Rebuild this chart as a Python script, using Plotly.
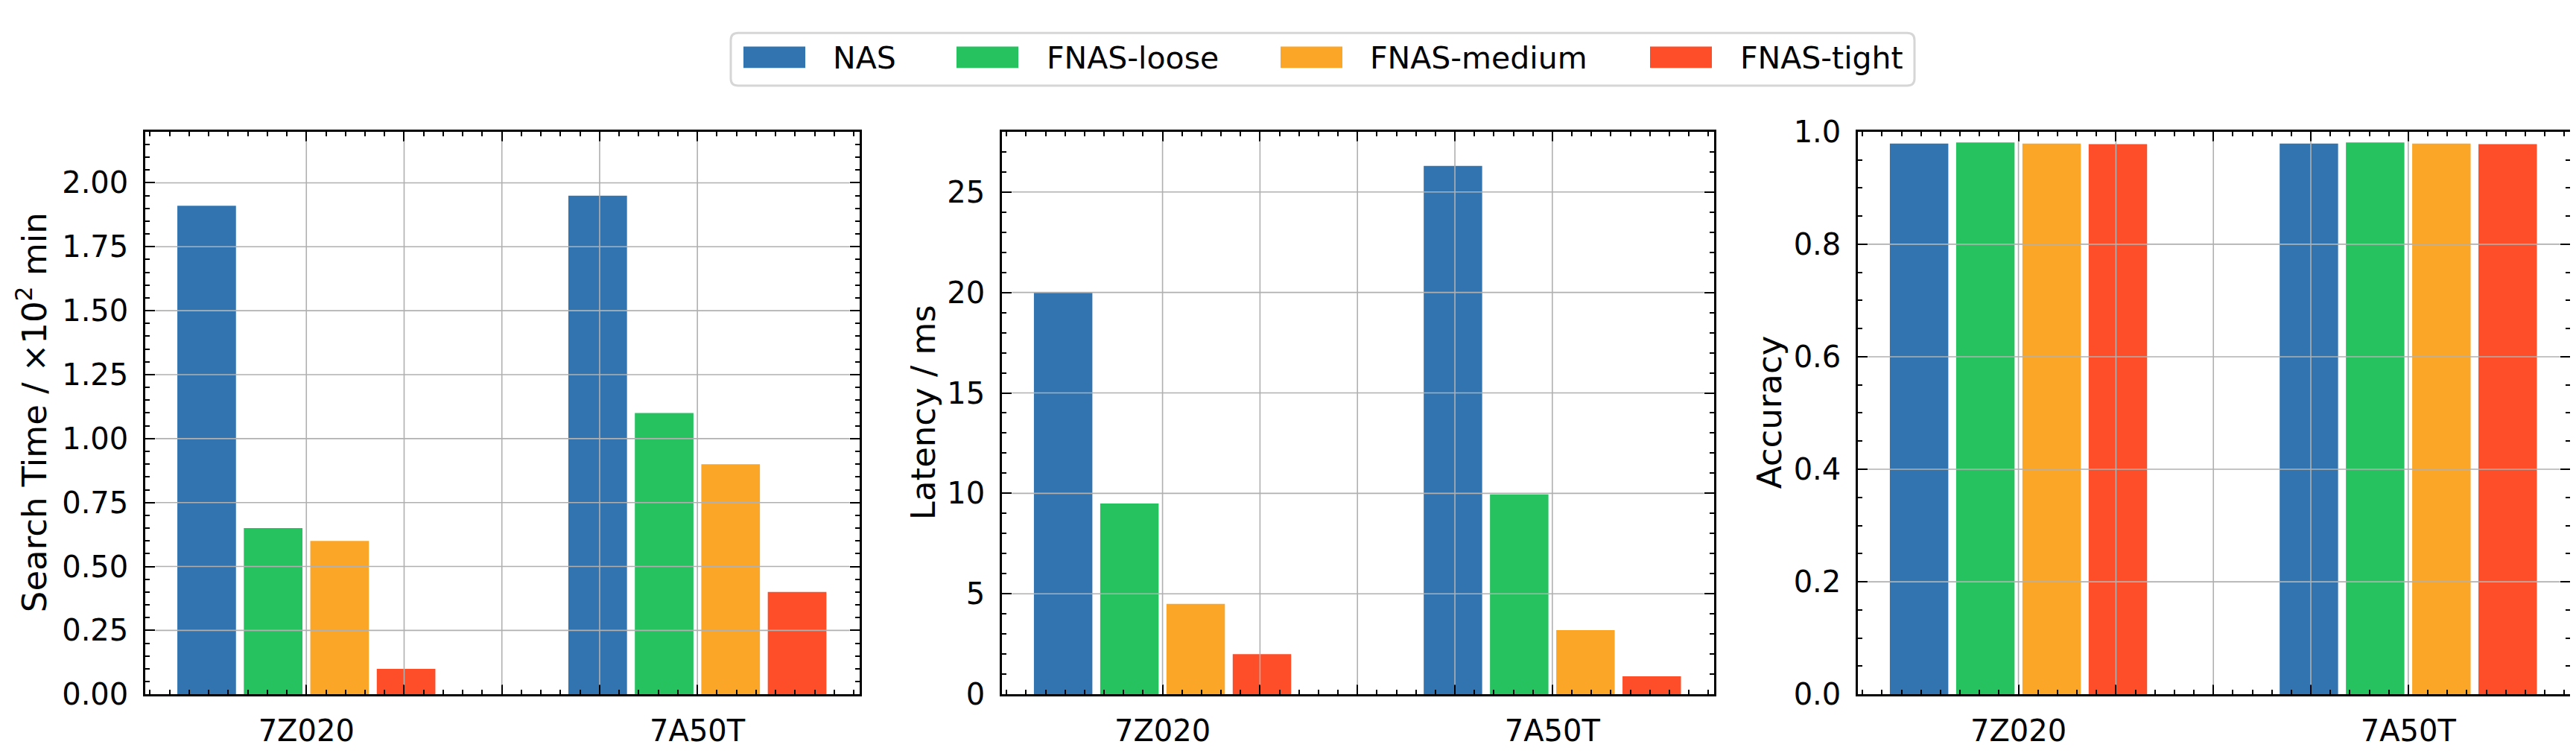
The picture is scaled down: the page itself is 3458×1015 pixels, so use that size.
import plotly.graph_objects as go

# data
devices = ["7Z020", "7A50T"]
methods = ["NAS", "FNAS-loose", "FNAS-medium", "FNAS-tight"]
colors = ["#3274b0", "#26c260", "#fca628", "#fe4e29"]

search_time = {  # x10^2 min
    "NAS": [1.91, 1.95],
    "FNAS-loose": [0.65, 1.10],
    "FNAS-medium": [0.60, 0.90],
    "FNAS-tight": [0.10, 0.40],
}
latency = {  # ms
    "NAS": [20.0, 26.3],
    "FNAS-loose": [9.5, 9.95],
    "FNAS-medium": [4.5, 3.2],
    "FNAS-tight": [2.0, 0.9],
}
accuracy = {
    "NAS": [0.979, 0.979],
    "FNAS-loose": [0.981, 0.981],
    "FNAS-medium": [0.979, 0.979],
    "FNAS-tight": [0.978, 0.978],
}

xtick_vals = [0, 0.25, 0.5, 0.75, 1]
xtick_text = [devices[0], "", "", "", devices[1]]

W, H = 3458, 1015
FONT = "DejaVu Sans"
GRID = "#b0b0b0"

x_domains = [[187 / W, 1146 / W], [1337 / W, 2293 / W], [2486 / W, 3442 / W]]
y_domain = [(H - 944) / H, (H - 152.7) / H]

panels = [
    dict(data=search_time, yrange=[0, 2.2], yticks=[0, 0.25, 0.5, 0.75, 1.0, 1.25, 1.5, 1.75, 2.0],
         fmt=".2f", minor=0.05, title="Search Time / ×10<sup>2</sup> min", title_x=35),
    dict(data=latency, yrange=[0, 28], yticks=[0, 5, 10, 15, 20, 25],
         fmt="d", minor=1, title="Latency / ms", title_x=1231),
    dict(data=accuracy, yrange=[0, 1.0], yticks=[0, 0.2, 0.4, 0.6, 0.8, 1.0],
         fmt=".1f", minor=0.05, title="Accuracy", title_x=2367),
]

fig = go.Figure()
layout = dict(
    width=W, height=H,
    margin=dict(l=0, r=0, t=0, b=0),
    paper_bgcolor="white", plot_bgcolor="white",
    barmode="group", bargap=0.32, bargroupgap=0.118,
    showlegend=False,
    font=dict(family=FONT, size=40, color="black"),
)
shapes = []
annotations = []

axis_common = dict(
    showline=True, linecolor="black", linewidth=2.5, mirror="allticks",
    ticks="inside", ticklen=13, tickwidth=2, tickcolor="black",
    showgrid=False, zeroline=False,
    tickfont=dict(family=FONT, size=40, color="black"),
)

for i, p in enumerate(panels):
    n = "" if i == 0 else str(i + 1)
    xa, ya = "x" + n, "y" + n
    for m, c in zip(methods, colors):
        fig.add_trace(go.Bar(
            x=[0, 1], y=p["data"][m], name=m, marker=dict(color=c, line=dict(width=0)),
            xaxis=xa, yaxis=ya, showlegend=False,
        ))
    layout["xaxis" + n] = dict(
        axis_common, domain=x_domains[i], anchor=ya, range=[-0.412, 1.415],
        tickmode="array", tickvals=xtick_vals, ticktext=xtick_text, ticklabelstandoff=12,
        minor=dict(tick0=0, dtick=0.05, ticks="inside", ticklen=6, tickwidth=2, tickcolor="black", showgrid=False),
    )
    layout["yaxis" + n] = dict(
        axis_common, domain=y_domain, anchor=xa, range=p["yrange"],
        tickmode="array", tickvals=p["yticks"], tickformat=p["fmt"], ticklabelstandoff=12,
        minor=dict(tick0=0, dtick=p["minor"], ticks="inside", ticklen=6, tickwidth=2, tickcolor="black", showgrid=False),
    )
    # grid drawn above the bars, stopping where the tick marks start
    for xv in xtick_vals:
        shapes.append(dict(type="line", layer="above", xref=xa, yref=ya + " domain",
                           x0=xv, x1=xv, y0=0.017, y1=0.983, line=dict(color=GRID, width=1.6)))
    for yv in p["yticks"]:
        if yv in (p["yrange"][0], p["yrange"][1]):
            continue
        shapes.append(dict(type="line", layer="above", xref=xa + " domain", yref=ya,
                           x0=0.014, x1=0.986, y0=yv, y1=yv, line=dict(color=GRID, width=1.6)))
    annotations.append(dict(
        text=p["title"], xref="paper", yref="paper", x=p["title_x"] / W, y=(H - 548) / H,
        textangle=-90, showarrow=False, xanchor="center", yanchor="middle",
        font=dict(family=FONT, size=45, color="black"),
    ))

# legend box (matplotlib style, on top)
bx0, bx1, by0, by1 = 973 / W, 2562 / W, (H - 88) / H, (H - 14) / H
rx, ry = 10 / W, 10 / H
path = (f"M{bx0 + rx},{by1} L{bx1 - rx},{by1} Q{bx1},{by1} {bx1},{by1 - ry} "
        f"L{bx1},{by0 + ry} Q{bx1},{by0} {bx1 - rx},{by0} L{bx0 + rx},{by0} "
        f"Q{bx0},{by0} {bx0},{by0 + ry} L{bx0},{by1 - ry} Q{bx0},{by1} {bx0 + rx},{by1} Z")
shapes.append(dict(type="path", path=path, xref="paper", yref="paper",
                   line=dict(color="#d6d6d6", width=3), fillcolor="white", layer="above"))
swatch_x = [990, 1276, 1711, 2207]
text_x = [1108, 1395, 1829, 2326]
for m, c, sx, tx in zip(methods, colors, swatch_x, text_x):
    shapes.append(dict(type="rect", xref="paper", yref="paper", layer="above",
                       x0=sx / W, x1=(sx + 83) / W, y0=(H - 63) / H, y1=(H - 33) / H,
                       fillcolor=c, line=dict(width=0)))
    annotations.append(dict(text=m, xref="paper", yref="paper", x=tx / W, y=(H - 49) / H,
                            xanchor="left", yanchor="middle", showarrow=False,
                            font=dict(family=FONT, size=41, color="black")))

layout["shapes"] = shapes
layout["annotations"] = annotations
fig.update_layout(layout)
fig.write_html("out.html")
